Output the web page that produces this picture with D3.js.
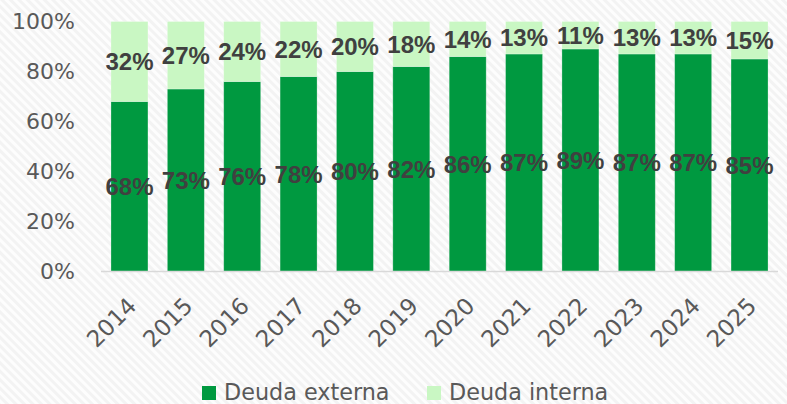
<!DOCTYPE html>
<html>
<head>
<meta charset="utf-8">
<script src="https://cdn.jsdelivr.net/npm/d3@7"></script>
<style>
  body { margin: 0; background: #fff; }
  svg { display: block; }
</style>
</head>
<body>
<svg id="chart"></svg>
<script>
var years = ["2014","2015","2016","2017","2018","2019","2020","2021","2022","2023","2024","2025"];
var externa = [68, 73, 76, 78, 80, 82, 86, 87, 89, 87, 87, 85];
var interna = [32, 27, 24, 22, 20, 18, 14, 13, 11, 13, 13, 15];
var yTicks = [0, 20, 40, 60, 80, 100];
var seriesNames = ["Deuda externa", "Deuda interna"];
var seriesColors = ["#009940", "#c9f7c3"];

var width = 787, height = 404;
var svg = d3.select("#chart").attr("width", width).attr("height", height);

// striped background
var defs = svg.append("defs");
var pat = defs.append("pattern")
    .attr("id", "stripes")
    .attr("patternUnits", "userSpaceOnUse")
    .attr("width", 6).attr("height", 6)
    .attr("patternTransform", "rotate(-45)");
pat.append("rect").attr("width", 6).attr("height", 6).attr("fill", "#fdfdfd");
pat.append("rect").attr("width", 3).attr("height", 6).attr("fill", "#f3f3f3");
svg.append("rect").attr("width", width).attr("height", height).attr("fill", "url(#stripes)");

var x = d3.scaleBand()
    .domain(years)
    .range([101, 778])
    .paddingInner(0.344)
    .paddingOuter(0.177);

var y = d3.scaleLinear()
    .domain([0, 100])
    .range([271.5, 21.5]);

var rows = years.map(function(yr, i) {
  return {year: yr, externa: externa[i], interna: interna[i]};
});
var stack = d3.stack().keys(["externa", "interna"]);
var layers = stack(rows);

var g = svg.append("g");

g.selectAll("g.layer")
    .data(layers)
  .enter().append("g")
    .attr("class", "layer")
    .attr("fill", function(d, i) { return seriesColors[i]; })
  .selectAll("rect")
    .data(function(d) { return d; })
  .enter().append("rect")
    .attr("x", function(d) { return x(d.data.year); })
    .attr("width", x.bandwidth())
    .attr("y", function(d) { return y(d[1]); })
    .attr("height", function(d) { return y(d[0]) - y(d[1]); })
    .attr("stroke", "#ffffff")
    .attr("stroke-opacity", 0.35)
    .attr("stroke-width", 0.75);

// value labels
layers.forEach(function(layer) {
  g.append("g").selectAll("text")
      .data(layer)
    .enter().append("text")
      .attr("x", function(d) { return x(d.data.year) + x.bandwidth() / 2; })
      .attr("y", function(d) { return (y(d[0]) + y(d[1])) / 2; })
      .attr("dy", "0.36em")
      .attr("text-anchor", "middle")
      .style("font-family", "'Liberation Sans', Arial, sans-serif")
      .style("font-weight", "bold")
      .style("font-size", "24px")
      .attr("fill", "#404040")
      .text(function(d) { return (d[1] - d[0]) + "%"; });
});

// baseline
svg.append("line")
    .attr("x1", 101).attr("x2", 778)
    .attr("y1", y(0)).attr("y2", y(0))
    .attr("stroke", "#d9d9d9")
    .attr("stroke-width", 1.5);

// y axis labels
svg.append("g").selectAll("text")
    .data(yTicks)
  .enter().append("text")
    .attr("x", 75)
    .attr("y", function(d) { return y(d); })
    .attr("dy", "0.36em")
    .attr("text-anchor", "end")
    .style("font-family", "'DejaVu Sans', sans-serif")
    .style("font-size", "22px")
    .attr("fill", "#595959")
    .text(function(d) { return d + "%"; });

// x axis labels
svg.append("g").selectAll("text")
    .data(years)
  .enter().append("text")
    .attr("transform", function(d) {
      return "translate(" + (x(d) + x.bandwidth() / 2 - 3) + ",296) rotate(-45)";
    })
    .attr("dy", "0.7em")
    .attr("text-anchor", "end")
    .style("font-family", "'DejaVu Sans', sans-serif")
    .style("font-size", "23px")
    .attr("fill", "#595959")
    .text(function(d) { return d; });

// legend
var legendX = [202, 427];
var legend = svg.append("g").selectAll("g")
    .data(seriesNames)
  .enter().append("g")
    .attr("transform", function(d, i) { return "translate(" + legendX[i] + ",386)"; });
legend.append("rect")
    .attr("width", 14).attr("height", 14)
    .attr("fill", function(d, i) { return seriesColors[i]; });
legend.append("text")
    .attr("x", 22).attr("y", 13.5)
    .style("font-family", "'DejaVu Sans', sans-serif")
    .style("font-size", "22.3px")
    .attr("fill", "#595959")
    .text(function(d) { return d; });
</script>
</body>
</html>
